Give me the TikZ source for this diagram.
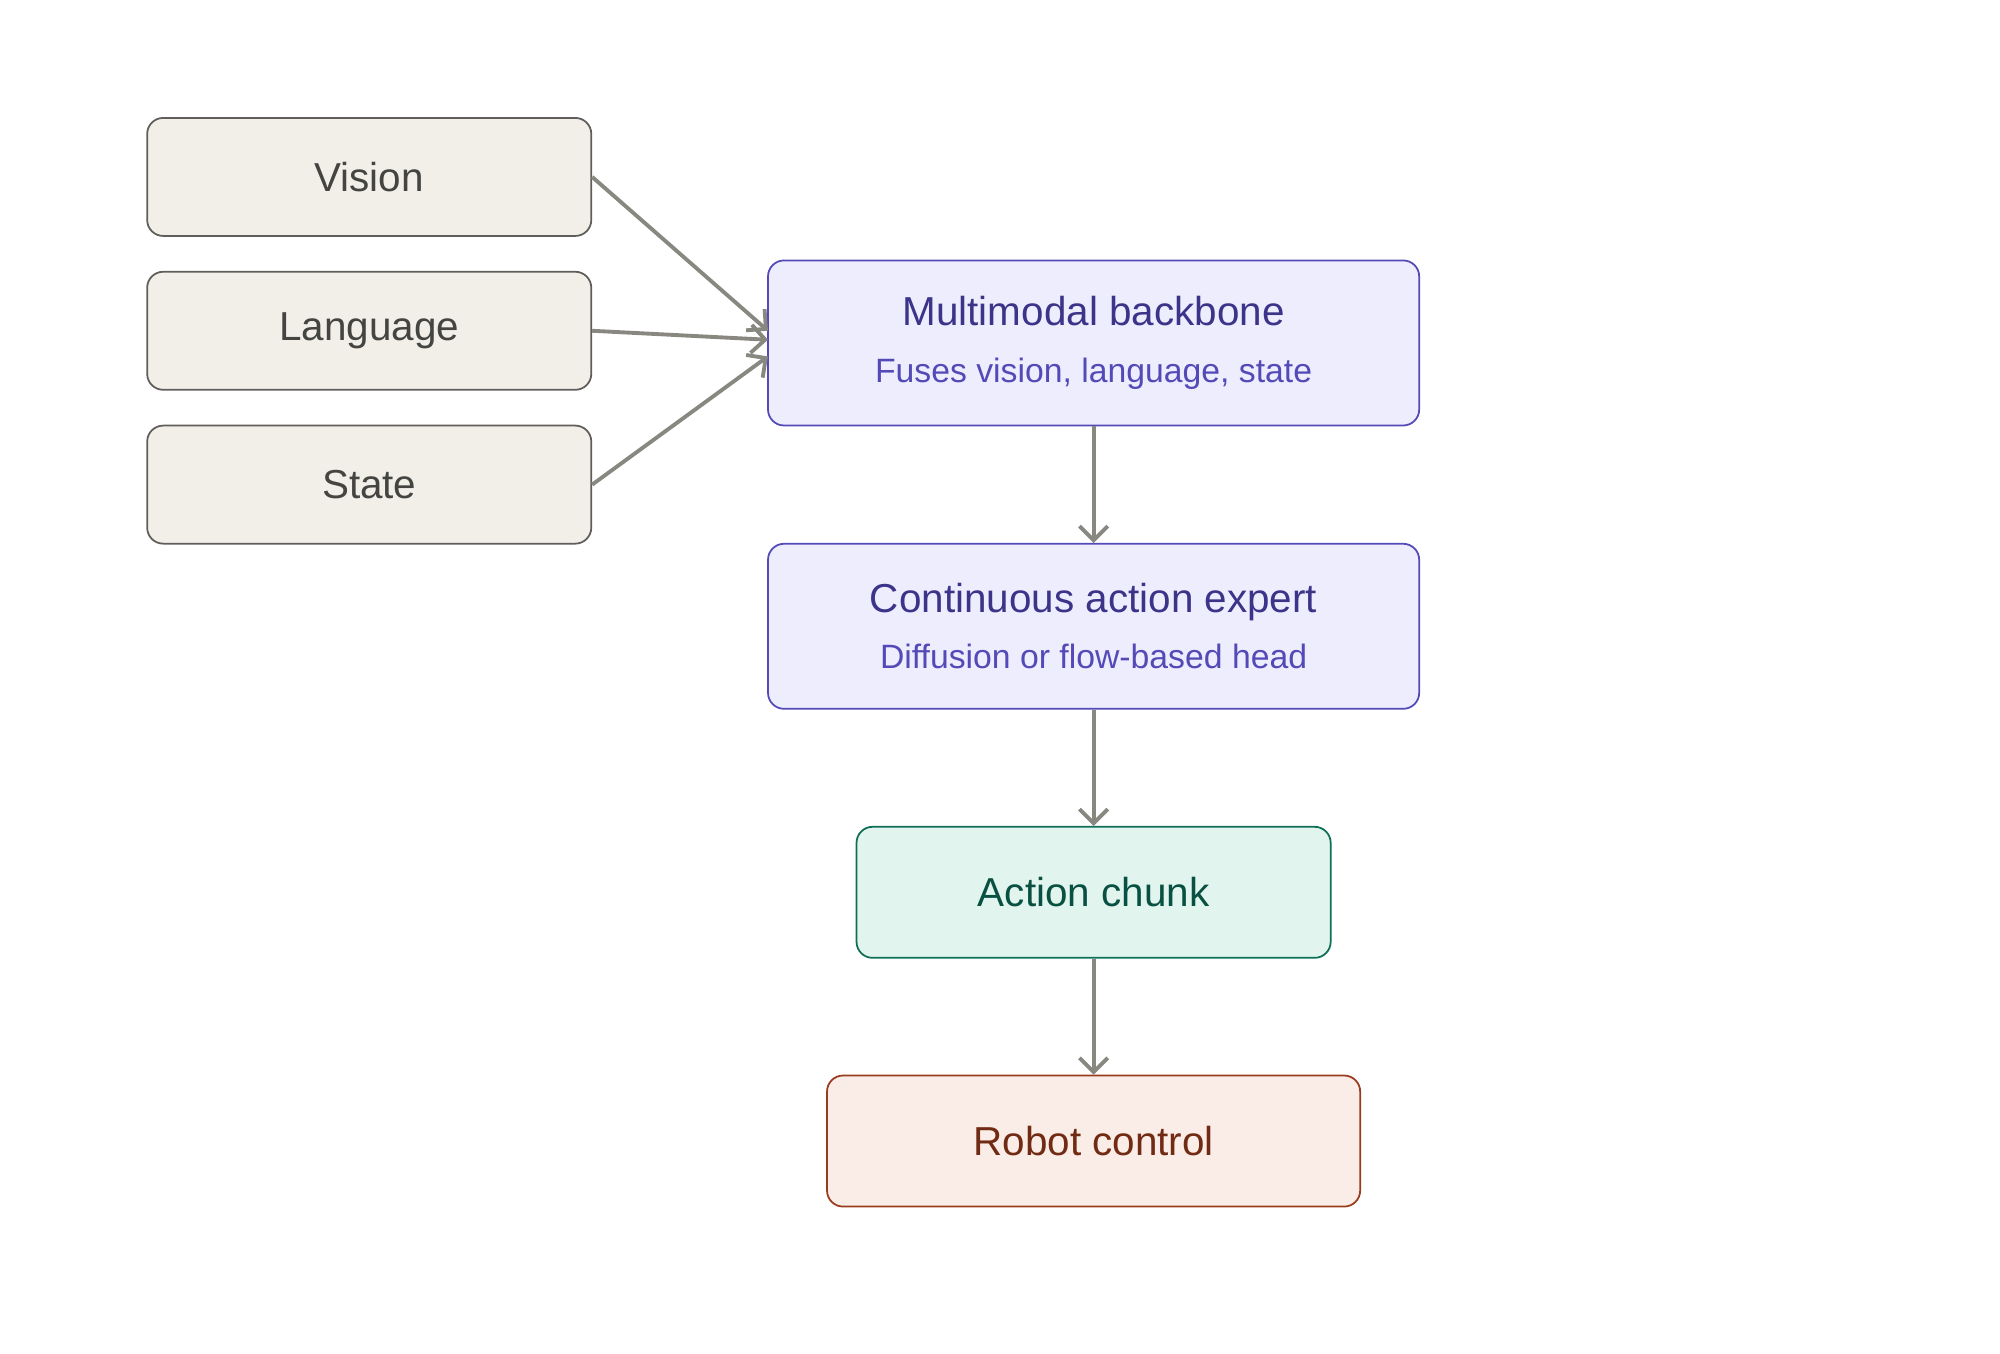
\documentclass[tikz,border=0pt]{standalone}
\usepackage{fontspec}
\setmainfont{Liberation Sans}
\usetikzlibrary{arrows.meta}
\definecolor{inFill}{HTML}{F1EFE8}
\definecolor{inLine}{HTML}{5F5E5A}
\definecolor{inText}{HTML}{444441}
\definecolor{pFill}{HTML}{EEEDFE}
\definecolor{pLine}{HTML}{534AB7}
\definecolor{pText}{HTML}{3C3489}
\definecolor{gFill}{HTML}{E1F5EE}
\definecolor{gLine}{HTML}{0F6E56}
\definecolor{gText}{HTML}{085041}
\definecolor{rFill}{HTML}{FAECE7}
\definecolor{rLine}{HTML}{993C1D}
\definecolor{rText}{HTML}{712B13}
\definecolor{arrowgray}{HTML}{888780}

\begin{document}
\begin{tikzpicture}[x=0.01282cm, y=-0.01282cm,
    box/.style={draw, rounded corners=0.16cm, inner sep=0pt, line width=0.5pt, align=center},
    input/.style={box, fill=inFill, draw=inLine, text=inText, minimum width=4.44cm, minimum height=1.18cm, font=\fontsize{11.5}{13}\selectfont},
    model/.style={box, fill=pFill, draw=pLine, text=pText, minimum width=6.51cm, minimum height=1.65cm, font=\fontsize{11.5}{13}\selectfont},
    sub/.style={text=pLine, font=\fontsize{9.6}{11}\selectfont},
    flow/.style={draw=arrowgray, line width=1.1pt, -{Straight Barb[length=4pt, width=8pt]}}]
    % Page
    \useasboundingbox (0, 0) rectangle (1560, 1056);
    % Inputs
    \node[input] (vision) at (288, 138) {Vision};
    \node[input] (lang) at (288, 258) {Language};
    \node[input] (state) at (288, 378) {State};
    % Model
    \node[model] (backbone) at (853, 267.5) {Multimodal backbone\\[3pt]{\usefont{TU}{\familydefault}{m}{n}\fontsize{9.6}{11}\selectfont\color{pLine}Fuses vision, language, state}};
    \node[model] (expert) at (853, 488.5) {Continuous action expert\\[3pt]{\fontsize{9.6}{11}\selectfont\color{pLine}Diffusion or flow-based head}};
    % Outputs
    \node[box, fill=gFill, draw=gLine, text=gText, minimum width=4.74cm, minimum height=1.31cm, font=\fontsize{11.5}{13}\selectfont] (chunk) at (853, 696) {Action chunk};
    \node[box, fill=rFill, draw=rLine, text=rText, minimum width=5.33cm, minimum height=1.31cm, font=\fontsize{11.5}{13}\selectfont] (robot) at (853, 890) {Robot control};
    % Arrows
    \coordinate (inA) at (599, 258);
    \coordinate (inB) at (599, 265);
    \coordinate (inC) at (599, 278);
    \draw[flow] (vision.east) -- (inA);
    \draw[flow] (lang.east) -- (inB);
    \draw[flow] (state.east) -- (inC);
    \draw[flow] (backbone) -- (expert);
    \draw[flow] (expert) -- (chunk);
    \draw[flow] (chunk) -- (robot);
\end{tikzpicture}
\end{document}
